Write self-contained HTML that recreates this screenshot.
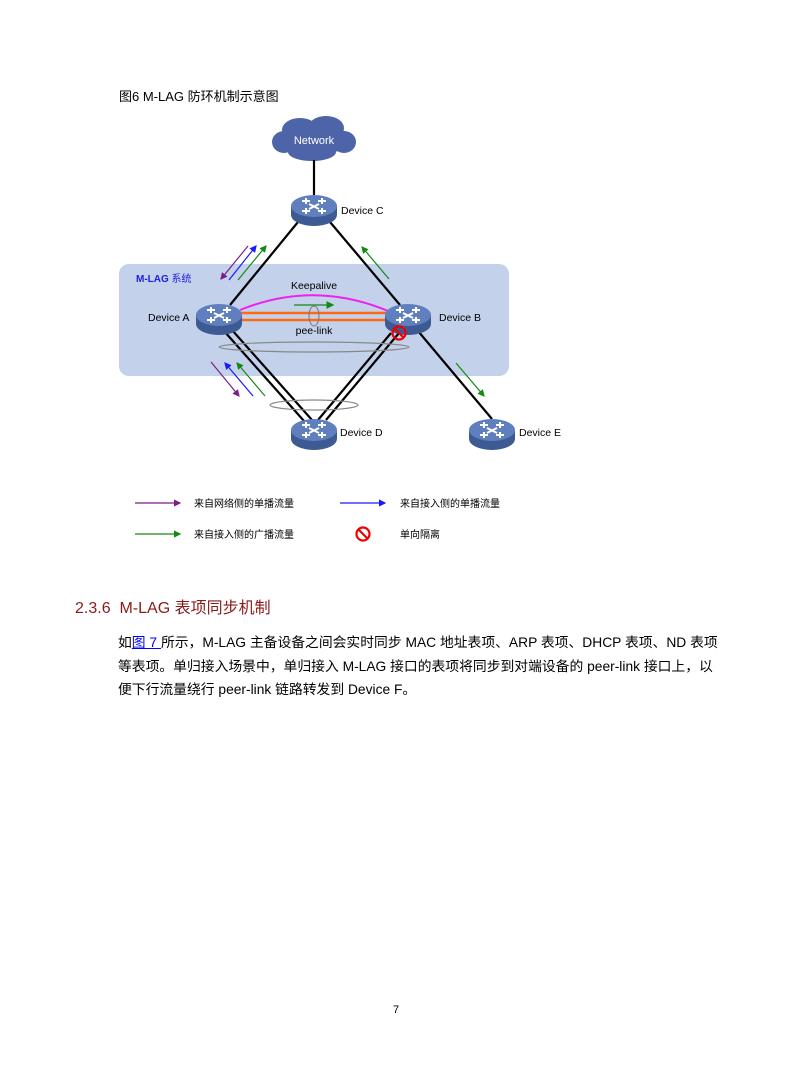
<!DOCTYPE html>
<html><head><meta charset="utf-8"><style>
body{margin:0;background:#fff;width:794px;height:1077px;position:relative;font-family:"Liberation Sans","Noto Sans CJK SC",sans-serif;}
.t{position:absolute;white-space:nowrap;}
</style></head><body>
<div class="t" style="left:119px;top:86px;font-size:13px;color:#000;">图6 M-LAG 防环机制示意图</div>
<svg width="794" height="1077" style="position:absolute;left:0;top:0" xmlns="http://www.w3.org/2000/svg">
<defs>
<marker id="ap" markerWidth="6" markerHeight="6" refX="5" refY="3" orient="auto"><path d="M0,0L6,3L0,6z" fill="#7b1f86"/></marker>
<marker id="ab" markerWidth="6" markerHeight="6" refX="5" refY="3" orient="auto"><path d="M0,0L6,3L0,6z" fill="#1a1aff"/></marker>
<marker id="ag" markerWidth="6" markerHeight="6" refX="5" refY="3" orient="auto"><path d="M0,0L6,3L0,6z" fill="#138a13"/></marker>
<g id="sw"><ellipse cx="0" cy="5" rx="23" ry="11" fill="#3e5a93"/><rect x="-23" y="-4" width="46" height="9" fill="#3e5a93"/><ellipse cx="0" cy="-4" rx="23" ry="11" fill="#5f7fbf"/><path d="M-12,-9h8M-8,-12v6M12,-9h-8M8,-12v6M-12,1h8M-8,-2v6M12,1h-8M8,-2v6M-5,-6l10,5M5,-6l-10,5" stroke="#fff" stroke-width="2" fill="none"/></g>
</defs>
<rect x="119" y="264" width="390" height="112" rx="10" fill="#c3d1ea"/>
<text x="136" y="282" font-size="10" font-weight="bold" fill="#2020e0" font-family="Liberation Sans,Noto Sans CJK SC,sans-serif">M-LAG<tspan font-weight="normal"> 系统</tspan></text>
<g fill="#4e64a8"><ellipse cx="314" cy="140" rx="40" ry="14"/><ellipse cx="300" cy="130" rx="18" ry="12"/><ellipse cx="326" cy="128" rx="18" ry="12"/><ellipse cx="312" cy="152" rx="24" ry="9"/><ellipse cx="284" cy="142" rx="12" ry="11"/><ellipse cx="344" cy="142" rx="12" ry="11"/></g>
<text x="314" y="144" font-size="11" fill="#fff" text-anchor="middle">Network</text>
<g stroke="#000" stroke-width="2.2">
<line x1="314" y1="160" x2="314" y2="196"/>
<line x1="298" y1="222" x2="230" y2="305"/>
<line x1="330" y1="222" x2="400" y2="305"/>
<line x1="224" y1="331" x2="304" y2="421"/><line x1="232" y1="330" x2="312" y2="420"/>
<line x1="391" y1="333" x2="318" y2="420"/><line x1="399" y1="333" x2="326" y2="420"/>
<line x1="418" y1="331" x2="492" y2="419"/>
</g>
<path d="M240,310 Q314,280 388,311" stroke="#f020f0" stroke-width="2" fill="none"/>
<line x1="240" y1="313" x2="388" y2="313" stroke="#ff6a10" stroke-width="2.5"/>
<line x1="240" y1="320" x2="388" y2="320" stroke="#ff6a10" stroke-width="2.5"/>
<ellipse cx="314" cy="316" rx="5" ry="10" fill="none" stroke="#777"/>
<line x1="294" y1="305" x2="333" y2="305" stroke="#138a13" stroke-width="1.3" marker-end="url(#ag)"/>
<ellipse cx="314" cy="347" rx="95" ry="5" fill="none" stroke="#888" stroke-width="1.2"/>
<ellipse cx="314" cy="405" rx="44" ry="5" fill="none" stroke="#888" stroke-width="1.2"/>
<use href="#sw" x="314" y="210"/><use href="#sw" x="219" y="319"/><use href="#sw" x="408" y="319"/><use href="#sw" x="314" y="434"/><use href="#sw" x="492" y="434"/>
<circle cx="399" cy="333" r="6.5" fill="none" stroke="#e00" stroke-width="2.2"/><line x1="395" y1="329" x2="403" y2="337" stroke="#e00" stroke-width="2.2"/>
<g font-size="10.5" fill="#000">
<text x="341" y="214">Device C</text><text x="148" y="321">Device A</text><text x="439" y="321">Device B</text>
<text x="340" y="436">Device D</text><text x="519" y="436">Device E</text>
<text x="314" y="289" text-anchor="middle">Keepalive</text><text x="314" y="334" text-anchor="middle">pee-link</text>
</g>
<g stroke-width="1.2">
<line x1="248" y1="246" x2="221" y2="279" stroke="#7b1f86" marker-end="url(#ap)"/>
<line x1="229" y1="280" x2="256" y2="246" stroke="#1a1aff" marker-end="url(#ab)"/>
<line x1="238" y1="280" x2="266" y2="246" stroke="#138a13" marker-end="url(#ag)"/>
<line x1="389" y1="279" x2="362" y2="247" stroke="#138a13" marker-end="url(#ag)"/>
<line x1="211" y1="362" x2="239" y2="396" stroke="#7b1f86" marker-end="url(#ap)"/>
<line x1="253" y1="396" x2="225" y2="363" stroke="#1a1aff" marker-end="url(#ab)"/>
<line x1="265" y1="396" x2="237" y2="363" stroke="#138a13" marker-end="url(#ag)"/>
<line x1="456" y1="363" x2="484" y2="396" stroke="#138a13" marker-end="url(#ag)"/>
<line x1="135" y1="503" x2="180" y2="503" stroke="#7b1f86" marker-end="url(#ap)"/>
<line x1="340" y1="503" x2="385" y2="503" stroke="#1a1aff" marker-end="url(#ab)"/>
<line x1="135" y1="534" x2="180" y2="534" stroke="#138a13" marker-end="url(#ag)"/>
</g>
<circle cx="363" cy="534" r="6.5" fill="none" stroke="#e00" stroke-width="2.2"/><line x1="358.5" y1="529.5" x2="367.5" y2="538.5" stroke="#e00" stroke-width="2.2"/>
<g font-size="10" fill="#000" font-family="Liberation Sans,Noto Sans CJK SC,sans-serif">
<text x="194" y="507">来自网络侧的单播流量</text><text x="400" y="507">来自接入侧的单播流量</text>
<text x="194" y="538">来自接入侧的广播流量</text><text x="400" y="538">单向隔离</text>
</g>
</svg>
<div class="t" style="left:75px;top:594px;font-size:16px;color:#8b1a1a;">2.3.6&nbsp; M-LAG 表项同步机制</div>
<div class="t" style="left:118px;top:631px;font-size:13.8px;line-height:23.5px;color:#000;">如<span style="color:#00f;text-decoration:underline">图 7 </span>所示，M-LAG 主备设备之间会实时同步 MAC 地址表项、ARP 表项、DHCP 表项、ND 表项<br>等表项。单归接入场景中，单归接入 M-LAG 接口的表项将同步到对端设备的 peer-link 接口上，以<br>便下行流量绕行 peer-link 链路转发到 Device F。</div>
<div class="t" style="left:393px;top:1004px;font-size:11px;">7</div>
</body></html>
